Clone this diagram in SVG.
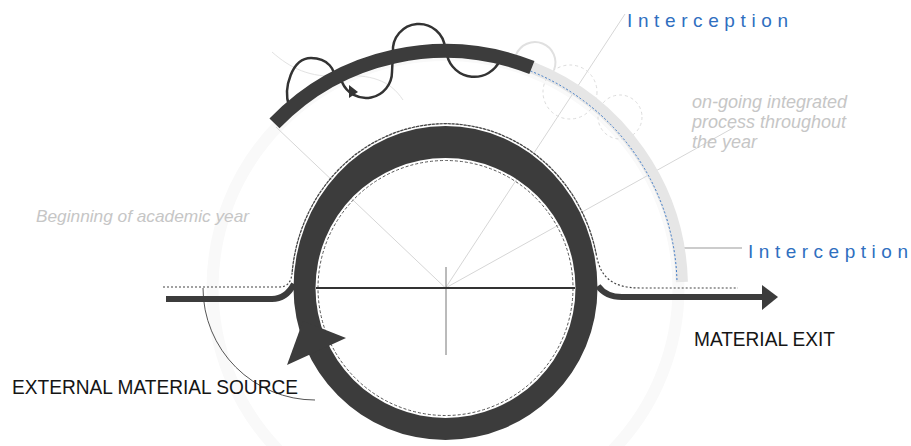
<svg xmlns="http://www.w3.org/2000/svg" width="911" height="446" viewBox="0 0 911 446">
<style>
.guide{fill:none;stroke:#d6d6d6;stroke-width:1}
.faint{fill:none;stroke:#dcdcdc;stroke-width:1;stroke-dasharray:3 3}
.dark{fill:#3c3c3c}
.dots{fill:none;stroke:#444;stroke-width:1.2;stroke-dasharray:2 2}
.lbl{font-family:"Liberation Sans",Arial,sans-serif;fill:#151515}
.blue{font-family:"Liberation Sans",Arial,sans-serif;fill:#2f6fbf;font-size:19px}
.note{font-family:"Liberation Sans",Arial,sans-serif;font-style:italic;fill:#c6c6c6}
</style>
<rect width="911" height="446" fill="#fff"/>

<g id="background-cycle">
<circle cx="445.5" cy="288" r="233" fill="none" stroke="#f9f9f9" stroke-width="12"/>
</g>

<g id="connectors">
<line class="guide" x1="445.5" y1="288" x2="276" y2="127"/>
<line class="guide" x1="445.5" y1="288" x2="625" y2="14"/>
<line class="guide" x1="445.5" y1="288" x2="733" y2="128"/>
<path d="M203,288 A112,112 0 0 0 315,400" fill="none" stroke="#555" stroke-width="1"/>
<line x1="675" y1="248" x2="742" y2="248" stroke="#9a9a9a" stroke-width="1.2"/>
<path class="dots" d="M163,287 L280,287 Q291,287 292.2,272 A154,164 0 0 1 596.4,255 C600,275 610,288 640,288 L738,288"/>
<path d="M166,299 L272,299 Q286,299 294,284" fill="none" stroke="#3c3c3c" stroke-width="6"/>
<path d="M598,286 Q606,297 622,297 L763,297" fill="none" stroke="#3c3c3c" stroke-width="6"/>
<polygon points="762,285 778,297 762,310" fill="#3c3c3c"/>
</g>

<g id="interception-marks">
<path d="M516,55 A20,20 0 0 1 554,70" fill="none" stroke="#e0e0e0" stroke-width="2"/>
<circle class="faint" cx="570" cy="92" r="27"/>
<circle class="faint" cx="620" cy="117" r="22"/>
<path d="M272,52 C290,68 310,78 340,76 C370,74 390,80 403,100" fill="none" stroke="#e2e2e2" stroke-width="1"/>
</g>

<g id="ongoing-band">
<path d="M531.9,67.5 A237,237 0 0 1 681.9,282" fill="none" stroke="#e6e6e6" stroke-width="12"/>
<path d="M530.5,71 A233,233 0 0 1 677,282" fill="none" stroke="#3b78c6" stroke-width="1" stroke-dasharray="2 2"/>
</g>

<g id="coil">
<path d="M289,106 C283,88 292,58 311,58 C328,58 336,70 334,80 L342,82 A26,26 0 0 0 392,72 L393,52 A26,26 0 0 1 445,48 L447,55 A28,28 0 0 0 500,60" fill="none" stroke="#333" stroke-width="2.5"/>
<polygon points="349,85 358,92 349,98" fill="#333"/>
</g>

<g id="top-arc">
<path d="M274.5,123.4 A237,237 0 0 1 531.9,67.5" fill="none" stroke="#3c3c3c" stroke-width="14"/>
</g>

<g id="main-cycle">
<line x1="446" y1="267" x2="446" y2="355" stroke="#777" stroke-width="1"/>
<path class="dark" d="M293.5,288 A152,162 0 0 1 597.5,288 L575.5,288 A130,130 0 0 0 315.5,288 Z"/>
<path class="dark" d="M293.5,288 A152,152 0 0 0 597.5,288 L575.5,288 A130,130 0 0 1 315.5,288 Z"/>
<path class="dots" d="M292.2,272 A154,164 0 0 1 596.4,255"/>
<circle cx="445.5" cy="288" r="127.5" fill="none" stroke="#555" stroke-width="1" stroke-dasharray="3 2"/>
<line x1="316" y1="288" x2="575" y2="288" stroke="#333" stroke-width="2"/>
<polygon class="dark" points="303,321 346,338 287,365"/>
</g>

<g id="labels">
<text class="blue" x="627" y="27" textLength="161" lengthAdjust="spacing">Interception</text>
<text class="blue" x="748" y="258" textLength="160" lengthAdjust="spacing">Interception</text>
<text class="note" font-size="18" x="692" y="108">on-going integrated</text>
<text class="note" font-size="18" x="692" y="128">process throughout</text>
<text class="note" font-size="18" x="692" y="148">the year</text>
<text class="note" font-size="17" x="36" y="222" textLength="213" lengthAdjust="spacingAndGlyphs">Beginning of academic year</text>
<text class="lbl" font-size="19.5" x="694" y="346" textLength="141" lengthAdjust="spacingAndGlyphs">MATERIAL EXIT</text>
<text class="lbl" font-size="21" x="12" y="394" textLength="286" lengthAdjust="spacingAndGlyphs">EXTERNAL MATERIAL SOURCE</text>
</g>
</svg>
